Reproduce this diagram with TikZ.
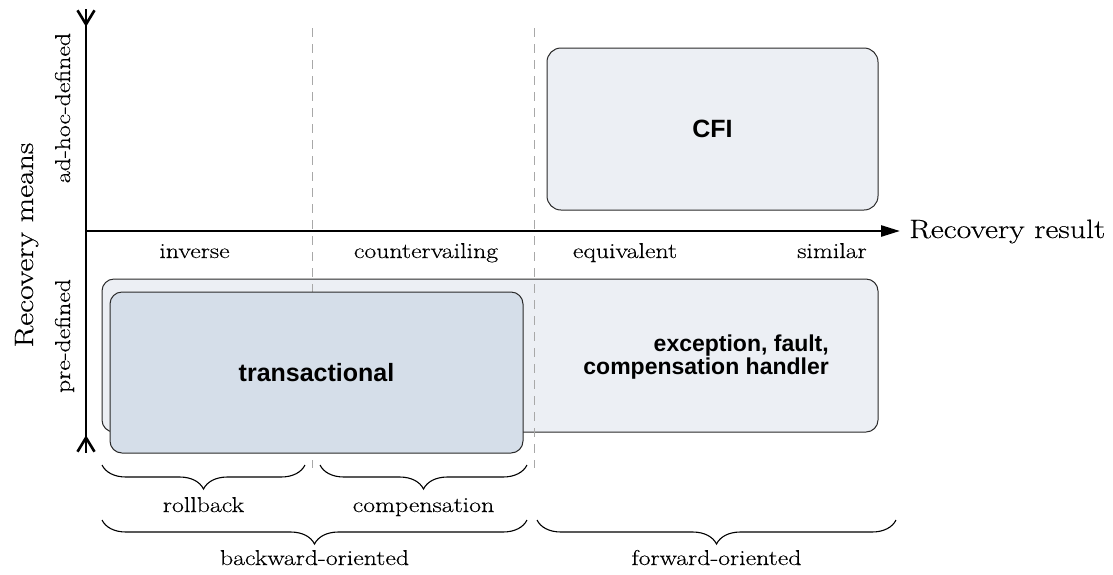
\documentclass[tikz,border=0pt]{standalone}
\usepackage{fontspec}
\setmainfont{Latin Modern Roman}[FakeStretch=1.2, FakeBold=0.35]
\newfontfamily\labelsans{Liberation Sans}
\usetikzlibrary{arrows.meta,decorations.pathreplacing}

\definecolor{paleblue}{HTML}{ECEFF4}
\definecolor{greyblue}{HTML}{D5DEE9}
\definecolor{boxline}{HTML}{2A2A2A}
\definecolor{guide}{HTML}{A8A8A8}

\tikzset{
  axis/.style={line width=2.6pt, black},
  barbs/.style={{Straight Barb[reversed,length=14pt,width=17pt]}-{Straight Barb[reversed,length=14pt,width=17pt]}},
  category/.style={draw=boxline, line width=1pt, rounded corners=12pt, inner sep=0pt},
  guideline/.style={draw=guide, line width=1pt, dash pattern=on 9pt off 7pt},
  boxtext/.style={font=\labelsans\bfseries\fontsize{25}{28}\selectfont},
  smalltext/.style={font=\fontsize{21.5}{25}\selectfont, inner sep=0pt, anchor=base},
  bigtext/.style={font=\fontsize{26.5}{30}\selectfont, inner sep=0pt},
  bracket/.style={draw=black, line width=1.1pt,
    decorate, decoration={brace, mirror, amplitude=24pt, aspect=0.5}},
}

\begin{document}
\begin{tikzpicture}[x=1pt, y=-1pt]
  \useasboundingbox (0,0) rectangle (1113,574);

  % axis end points
  \coordinate (ytop)   at (86,9);
  \coordinate (ybot)   at (86,453);
  \coordinate (origin) at (86,231);
  \coordinate (xend)   at (900,231);

  % pre-defined handlers (background box)
  \node[category, fill=paleblue, minimum width=776pt, minimum height=153pt]
    (handler) at (490,355.5) {};
  \node[boxtext, font=\labelsans\bfseries\fontsize{23}{22.5}\selectfont,
        align=right, anchor=east, inner sep=0pt]
    (handlertext) at (829,357) {exception, fault,\\compensation handler};

  % column separators
  \coordinate (sepA) at (312,28);  \coordinate (sepAend) at (312,468);
  \coordinate (sepB) at (534,28);  \coordinate (sepBend) at (534,468);
  \draw[guideline] (sepA) -- (sepAend);
  \draw[guideline] (sepB) -- (sepBend);

  % transactional box
  \node[category, fill=greyblue, minimum width=413pt, minimum height=161pt]
    (trans) at (316.5,372.5) {};
  \node[boxtext] (transtext) at (trans.center) {transactional};

  % CFI box
  \node[category, fill=paleblue, rounded corners=14pt,
        minimum width=331pt, minimum height=162pt]
    (cfi) at (712.5,129) {};
  \node[boxtext] (cfitext) at (cfi.center) {CFI};

  % axes: the vertical one runs through its inward barbs
  \draw[axis] (ytop) -- (ybot);
  \draw[axis, barbs] (ytop) -- (ybot);
  \draw[axis, -{Triangle[length=19pt,width=11pt]}] (origin) -- (xend);

  % axis titles
  \node[bigtext, anchor=base west] (xtitle) at (909,238) {Recovery result};
  \node[bigtext, anchor=base, rotate=90] (ytitle) at (33,245) {Recovery means};

  % y-axis categories
  \node[smalltext, rotate=90] (adhoc) at (70,108) {ad-hoc-defined};
  \node[smalltext, rotate=90] (predef) at (70,336) {pre-defined};

  % x-axis categories
  \node[smalltext] (inv)  at (194.5,258) {inverse};
  \node[smalltext] (cntr) at (426,258)   {countervailing};
  \node[smalltext] (equi) at (625,258)   {equivalent};
  \node[smalltext] (simi) at (832,258)   {similar};

  % groupings below the chart
  \coordinate (rbA) at (102,465); \coordinate (rbB) at (305,465);
  \coordinate (cpA) at (320,465); \coordinate (cpB) at (527,465);
  \coordinate (bwA) at (102,520); \coordinate (bwB) at (527,520);
  \coordinate (fwA) at (537,520); \coordinate (fwB) at (896,520);

  \draw[bracket] (rbA) -- (rbB);
  \draw[bracket] (cpA) -- (cpB);
  \draw[bracket] (bwA) -- (bwB);
  \draw[bracket] (fwA) -- (fwB);

  \node[smalltext] (rollback) at (203.5,512) {rollback};
  \node[smalltext] (compens)  at (423.5,512) {compensation};
  \node[smalltext] (backward) at (314.5,565) {backward-oriented};
  \node[smalltext] (forward)  at (716.5,565) {forward-oriented};
\end{tikzpicture}
\end{document}
